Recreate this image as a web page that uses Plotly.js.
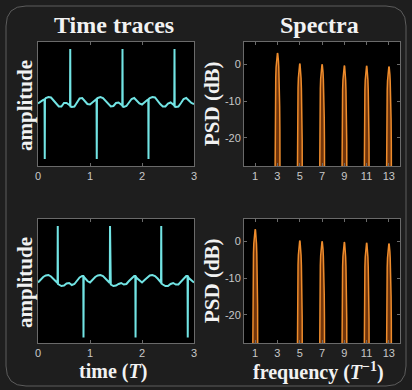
<!DOCTYPE html>
<html>
<head>
<meta charset="utf-8">
<script src="https://cdn.plot.ly/plotly-3.0.1.min.js"></script>
<style>html,body{margin:0;padding:0;background:#1e1e1e;}#chart{width:412px;height:390px;}</style>
</head>
<body>
<div id="chart"></div>
<script>
// ---------- DATA ----------
const timeTopT = [0.00,0.05,0.10,0.126,0.13,0.134,0.15,0.20,0.25,0.30,0.35,0.40,0.45,0.50,0.55,0.60,0.616,0.62,0.624,0.65,0.70,0.75,0.80,0.85,0.90,0.95,
  1.00,1.05,1.10,1.126,1.13,1.134,1.15,1.20,1.25,1.30,1.35,1.40,1.45,1.50,1.55,1.60,1.621,1.625,1.629,1.65,1.70,1.75,1.80,1.85,1.90,1.95,
  2.00,2.05,2.10,2.121,2.125,2.129,2.15,2.20,2.25,2.30,2.35,2.40,2.45,2.50,2.55,2.60,2.621,2.625,2.629,2.65,2.70,2.75,2.80,2.85,2.90,2.95,3.00];
const timeTopA = [0.01,0.05,0.08,0.09,-1.10,0.10,0.12,0.14,0.13,0.07,0.00,-0.05,-0.05,0.02,0.02,-0.02,-0.03,1.10,-0.05,-0.06,-0.05,0.03,0.11,0.12,0.06,0.00,
  -0.01,0.04,0.08,0.10,-1.10,0.11,0.12,0.14,0.12,0.07,0.01,-0.05,-0.04,0.02,0.03,-0.02,-0.03,1.10,-0.05,-0.06,-0.04,0.03,0.10,0.12,0.07,0.01,
  -0.01,0.04,0.08,0.09,-1.10,0.10,0.12,0.14,0.13,0.06,0.00,-0.05,-0.05,0.01,0.03,-0.01,-0.03,1.10,-0.05,-0.06,-0.05,0.02,0.10,0.12,0.07,0.02,0.00];

const timeBotT = [0.00,0.05,0.10,0.15,0.20,0.25,0.30,0.35,0.376,0.38,0.384,0.40,0.45,0.50,0.55,0.60,0.65,0.70,0.75,0.80,0.85,0.871,0.875,0.879,0.90,0.95,
  1.00,1.05,1.10,1.15,1.20,1.25,1.30,1.35,1.381,1.385,1.389,1.40,1.45,1.50,1.55,1.60,1.65,1.70,1.75,1.80,1.85,1.872,1.876,1.880,1.90,1.95,
  2.00,2.05,2.10,2.15,2.20,2.25,2.30,2.35,2.366,2.37,2.374,2.40,2.45,2.50,2.55,2.60,2.65,2.70,2.75,2.80,2.85,2.876,2.88,2.884,2.90,2.95,3.00];
const timeBotA = [-0.03,0.03,0.08,0.11,0.12,0.09,0.04,-0.01,-0.04,1.10,-0.06,-0.07,-0.10,-0.09,-0.05,-0.04,-0.08,-0.06,0.00,0.07,0.10,0.10,-1.13,0.09,0.06,0.00,
  -0.03,0.03,0.08,0.11,0.12,0.10,0.04,-0.01,-0.04,1.10,-0.06,-0.07,-0.10,-0.09,-0.06,-0.04,-0.07,-0.06,0.00,0.06,0.10,0.10,-1.13,0.09,0.06,0.01,
  -0.03,0.02,0.07,0.11,0.12,0.10,0.05,0.00,-0.03,1.10,-0.05,-0.07,-0.10,-0.10,-0.06,-0.04,-0.07,-0.07,-0.01,0.06,0.10,0.10,-1.13,0.09,0.06,0.01,-0.03];

const harmonicsTop = [3,5,7,9,11,13];
const peakDbTop = [3.1,0.2,0.0,-0.3,-0.4,-0.6];
const harmonicsBot = [1,5,7,9,11,13];
const peakDbBot = [3.3,0.2,0.0,-0.2,-0.4,-0.6];
// shape of one spectral lobe: frequency offset and level relative to its peak (dB)
const lobeOffset = [-0.24,-0.22,-0.20,-0.18,-0.15,-0.12,-0.09,-0.06,-0.03,0,0.03,0.06,0.09,0.12,0.15,0.18,0.20,0.22,0.24];
const lobeDrop   = [-45,-21,-14.4,-10.5,-6.6,-3.9,-2.1,-0.9,-0.2,0,-0.2,-0.9,-2.1,-3.9,-6.6,-10.5,-14.4,-21,-45];

const timeTicks = [0,1,2,3];
const freqTicks = [1,3,5,7,9,11,13];
const dbTickVals = [-20,-10,0];
const dbTickText = ['-20','-10','0'];

// ---------- BUILD ----------
function lobes(h, p){
  const x=[], y=[];
  h.forEach((f,i)=>{
    lobeOffset.forEach((o,j)=>{ x.push(f+o); y.push(p[i]+lobeDrop[j]); });
    x.push(null); y.push(null);
  });
  return {x,y};
}
const W=412, H=390;
const px = v => v/W, py = v => 1 - v/H;

const cyan = '#72e4e4';
const orange = '#ee8c2c';
const tT = {x: timeTopT, y: timeTopA, xaxis:'x', yaxis:'y', mode:'lines', line:{color:cyan, width:2}, hoverinfo:'skip'};
const tB = {x: timeBotT, y: timeBotA, xaxis:'x3', yaxis:'y3', mode:'lines', line:{color:cyan, width:2}, hoverinfo:'skip'};
const sTd = lobes(harmonicsTop, peakDbTop);
const sBd = lobes(harmonicsBot, peakDbBot);
const sT = {x:sTd.x, y:sTd.y, xaxis:'x2', yaxis:'y2', mode:'lines', fill:'toself', fillcolor:'rgba(150,70,15,0.75)', line:{color:orange, width:1.5}, hoverinfo:'skip'};
const sB = {x:sBd.x, y:sBd.y, xaxis:'x4', yaxis:'y4', mode:'lines', fill:'toself', fillcolor:'rgba(150,70,15,0.75)', line:{color:orange, width:1.5}, hoverinfo:'skip'};

const axBase = {showgrid:false, zeroline:false, showline:true, linecolor:'#6a6a6a', linewidth:1, mirror:'ticks',
  ticks:'inside', ticklen:3, tickcolor:'#6a6a6a', tickfont:{family:'Liberation Sans, Arial, sans-serif', size:11, color:'#c8c8c8'}, fixedrange:true};
const topDom = [py(166), py(42)], botDom = [py(343), py(219)];
const leftDom = [px(38), px(194)], rightDom = [px(244), px(400)];

const layout = {
  width:W, height:H, margin:{l:0,r:0,t:0,b:0}, showlegend:false,
  paper_bgcolor:'#1e1e1e', plot_bgcolor:'#000000',
  xaxis: Object.assign({}, axBase, {domain:leftDom, anchor:'y', range:[0,3], tickvals:timeTicks}),
  yaxis: Object.assign({}, axBase, {domain:topDom, anchor:'x', range:[-1.24,1.24], ticks:'', showticklabels:false}),
  xaxis2: Object.assign({}, axBase, {domain:rightDom, anchor:'y2', range:[0,14], tickvals:freqTicks}),
  yaxis2: Object.assign({}, axBase, {domain:topDom, anchor:'x2', range:[-27.7,6.1], tickvals:dbTickVals, ticktext:dbTickText}),
  xaxis3: Object.assign({}, axBase, {domain:leftDom, anchor:'y3', range:[0,3], tickvals:timeTicks}),
  yaxis3: Object.assign({}, axBase, {domain:botDom, anchor:'x3', range:[-1.24,1.24], ticks:'', showticklabels:false}),
  xaxis4: Object.assign({}, axBase, {domain:rightDom, anchor:'y4', range:[0,14], tickvals:freqTicks}),
  yaxis4: Object.assign({}, axBase, {domain:botDom, anchor:'x4', range:[-27.7,6.1], tickvals:dbTickVals, ticktext:dbTickText}),
  shapes:[{type:'path', xref:'paper', yref:'paper', layer:'below',
    path:`M ${px(26)},${py(6)} L ${px(386)},${py(6)} Q ${px(406)},${py(6)} ${px(406)},${py(26)} L ${px(406)},${py(366)} Q ${px(406)},${py(386)} ${px(386)},${py(386)} L ${px(26)},${py(386)} Q ${px(6)},${py(386)} ${px(6)},${py(366)} L ${px(6)},${py(26)} Q ${px(6)},${py(6)} ${px(26)},${py(6)} Z`,
    line:{color:'#5c5c5c', width:1}}],
  annotations:[]
};
const serif = 'Liberation Serif, Times New Roman, serif';
function ann(text, x, y, size, angle, yanchor){
  layout.annotations.push({text:text, xref:'paper', yref:'paper', x:px(x), y:py(y), xanchor:'center', yanchor:yanchor||'middle',
    showarrow:false, borderpad:0, textangle:angle||0, font:{family:serif, size:size, color:'#f2f2f2', weight:'bold'}});
}
ann('<b>Time traces</b>', 114, 25, 24);
ann('<b>Spectra</b>', 319, 25, 24);
ann('<b>amplitude</b>', 25, 106, 21, -90);
ann('<b>amplitude</b>', 25, 283, 21, -90);
ann('<b>PSD (dB)</b>', 212, 104, 21, -90);
ann('<b>PSD (dB)</b>', 212, 281, 21, -90);
ann('<b>time (<i>T</i>)</b>', 113, 384, 20, 0, 'bottom');
ann('<b>frequency (<i>T</i><sup>−1</sup>)</b>', 318, 385, 20, 0, 'bottom');

Plotly.newPlot('chart', [tT, sT, tB, sB], layout, {staticPlot:true, displayModeBar:false});
</script>
</body>
</html>
